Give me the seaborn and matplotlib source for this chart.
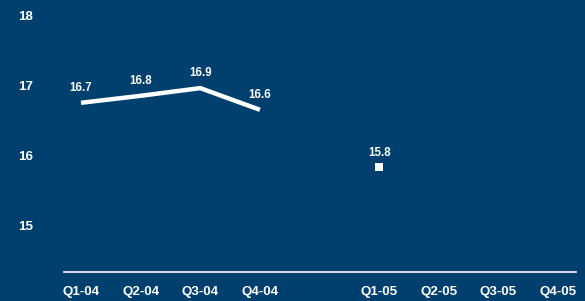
import matplotlib
matplotlib.use("Agg")
import matplotlib.pyplot as plt
import seaborn as sns
import pandas as pd
import numpy as np

# Data
categories = ["Q1-04", "Q2-04", "Q3-04", "Q4-04", "", "Q1-05", "Q2-05", "Q3-05", "Q4-05"]
line_cats = ["Q1-04", "Q2-04", "Q3-04", "Q4-04"]
line_vals = [16.76, 16.86, 16.97, 16.66]
line_labels = ["16.7", "16.8", "16.9", "16.6"]
point_cats = ["Q1-05"]
point_vals = [15.84]
point_labels = ["15.8"]
yticks = [15, 16, 17, 18]

BG = "#003F6E"
W, H = 585, 301
DPI = 100

sns.set_theme(style="white")
plt.rcParams["font.family"] = ["Liberation Sans", "DejaVu Sans"]

fig = plt.figure(figsize=(W / DPI, H / DPI), dpi=DPI, facecolor=BG)
ax = fig.add_axes([64 / W, (H - 272) / H, (576 - 64) / W, 272 / H])
ax.set_facecolor(BG)

pos = {c: i for i, c in enumerate(categories)}
df_line = pd.DataFrame({"x": [pos[c] for c in line_cats], "y": line_vals})
df_pt = pd.DataFrame({"x": [pos[c] for c in point_cats], "y": point_vals})

sns.lineplot(data=df_line, x="x", y="y", ax=ax, color="white", linewidth=3.2,
             solid_joinstyle="miter", solid_capstyle="butt")
sns.scatterplot(data=df_pt, x="x", y="y", ax=ax, color="white", marker="s",
                s=28, linewidth=0)

for x, y, t in zip(df_line["x"], df_line["y"], line_labels):
    ax.annotate(t, (x, y), xytext=(0, 15), textcoords="offset pixels",
                ha="center", va="center", color="white", fontsize=8.3, fontweight="bold")
for x, y, t in zip(df_pt["x"], df_pt["y"], point_labels):
    ax.annotate(t, (x, y), xytext=(0, 14), textcoords="offset pixels",
                ha="center", va="center", color="white", fontsize=8.3, fontweight="bold")

ax.set_xlim(-0.285, 8.3)
ax.set_ylim(18 - 256 / 70, 18 + 16 / 70)
ax.set_xticks(range(len(categories)))
ax.set_xticklabels(categories)
ax.set_yticks(yticks)
ax.set_yticklabels([str(v) for v in yticks])
ax.tick_params(axis="x", length=0, pad=10, colors="white", labelsize=9.6)
ax.tick_params(axis="y", length=0, pad=22, colors="white", labelsize=9.6)
for lab in ax.get_xticklabels() + ax.get_yticklabels():
    lab.set_fontweight("bold")
ax.set_xlabel("")
ax.set_ylabel("")
for s in ["top", "right", "left"]:
    ax.spines[s].set_visible(False)
ax.spines["bottom"].set_color("white")
ax.spines["bottom"].set_linewidth(1.2)
ax.grid(False)

fig.savefig("out.png", dpi=DPI, facecolor=BG)
